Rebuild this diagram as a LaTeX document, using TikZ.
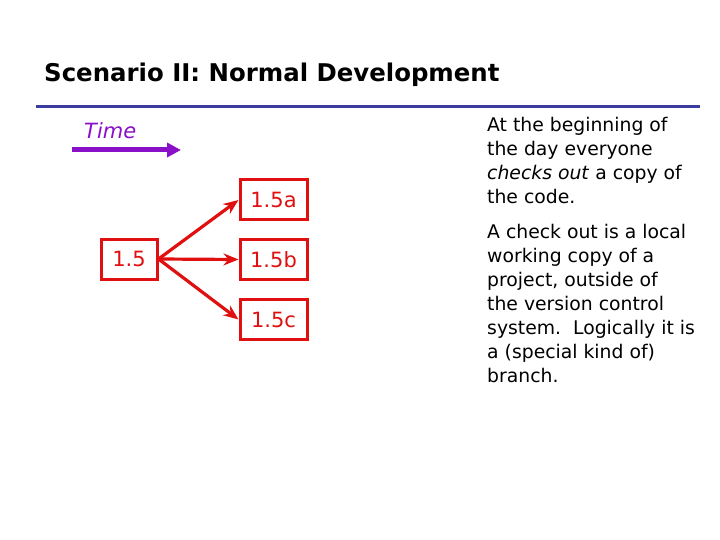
\documentclass[tikz,border=0pt]{standalone}
\usepackage{fontspec}
\setmainfont{DejaVu Sans}
\usetikzlibrary{arrows.meta}
\definecolor{boxred}{HTML}{E01010}
\definecolor{timepurple}{HTML}{8A10C8}
\definecolor{lineblue}{HTML}{3C3CA0}
\tikzset{
  verbox/.style={draw=boxred, line width=3pt, text=boxred, minimum height=40pt, inner sep=0pt, font=\fontsize{21}{24}\selectfont},
  branch/.style={draw=boxred, line width=3.2pt, -{Stealth[length=15pt,width=12pt]}},
  bodytext/.style={anchor=north west, align=left, inner sep=0pt, font=\fontsize{18.8}{24}\selectfont}
}
\begin{document}
\begin{tikzpicture}[x=1pt,y=-1pt]
\useasboundingbox (0,0) rectangle (720,540);
\node[anchor=base west, inner sep=0pt, font=\bfseries\fontsize{24.4}{28}\selectfont] (title) at (44,82) {Scenario II: Normal Development};
\draw[lineblue, line width=3pt] (36,107) -- (700,107);
\node[anchor=base west, inner sep=0pt, text=timepurple, font=\itshape\fontsize{21}{24}\selectfont] (time) at (84,139) {Time};
\coordinate (ts) at (72,150);
\coordinate (te) at (181,150);
\draw[timepurple, line width=5pt, -{Triangle[length=14pt,width=14pt]}] (ts) -- (te);
\node[verbox, minimum width=56pt] (v15) at (129,259) {1.5};
\node[verbox, minimum width=67pt] (v15a) at (273.5,200) {1.5a};
\node[verbox, minimum width=67pt] (v15b) at (273.5,259.5) {1.5b};
\node[verbox, minimum width=67pt] (v15c) at (273.5,319.5) {1.5c};
\draw[branch] (v15.east) -- (v15a.west);
\draw[branch] (v15.east) -- (v15b.west);
\draw[branch] (v15.east) -- (v15c.west);
\node[bodytext] (p1) at (487,117) {At the beginning of\\the day everyone\\\textit{checks out} a copy of\\the code.};
\node[bodytext] (p2) at (487,224) {A check out is a local\\working copy of a\\project, outside of\\the version control\\system.\ \ Logically it is\\a (special kind of)\\branch.};
\end{tikzpicture}
\end{document}
